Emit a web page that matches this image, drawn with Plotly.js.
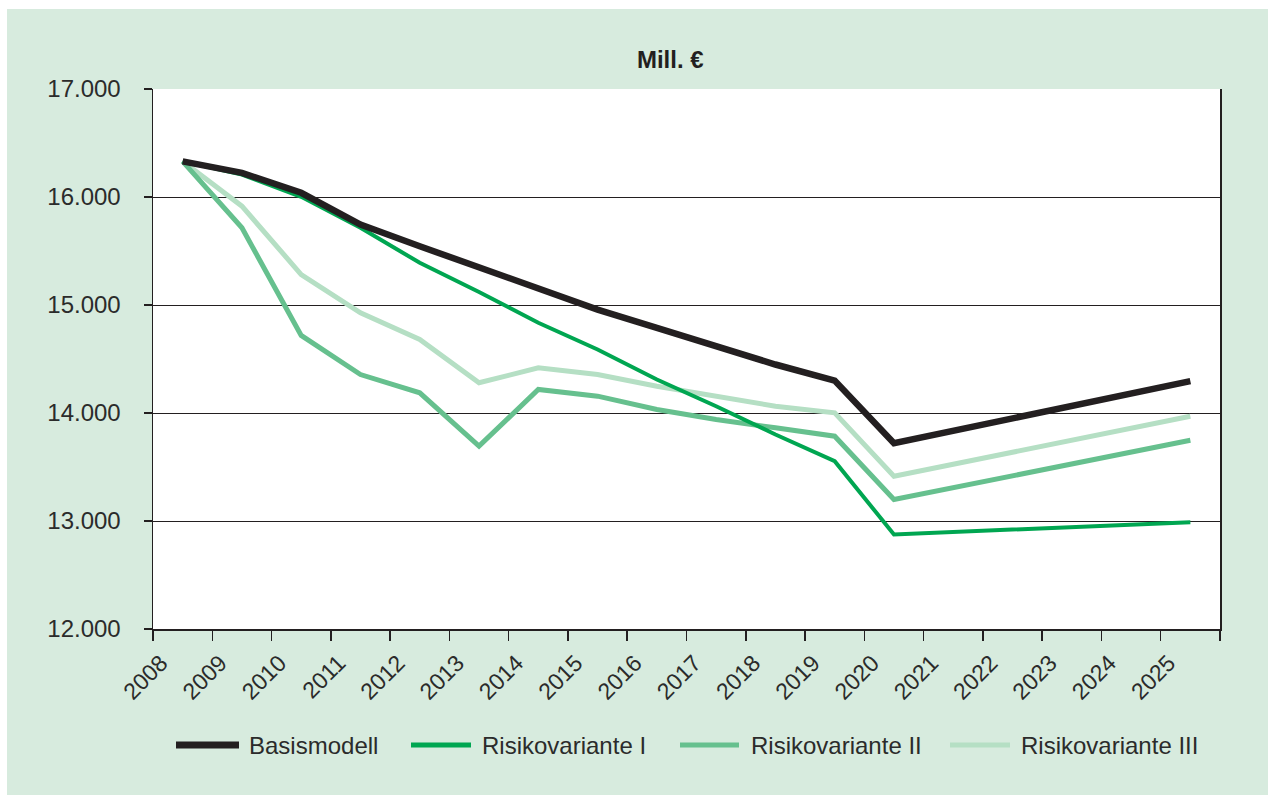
<!DOCTYPE html>
<html>
<head>
<meta charset="utf-8">
<script src="https://cdn.plot.ly/plotly-3.0.1.min.js"></script>
<style>
  html, body { margin: 0; padding: 0; background: #ffffff; }
  #chart { position: absolute; left: 7px; top: 9px; width: 1261px; height: 786px; }
</style>
</head>
<body>
<div id="chart"></div>
<script>
// ---- data ----
const years = [2008, 2009, 2010, 2011, 2012, 2013, 2014, 2015, 2016, 2017, 2018, 2019, 2020, 2021, 2022, 2023, 2024, 2025];
const seriesNames = ["Basismodell", "Risikovariante I", "Risikovariante II", "Risikovariante III"];
const basismodell = [16330, 16224, 16039, 15745, 15544, 15345, 15144, 14958, 14789, 14619, 14449, 14300, 13720, null, null, null, null, 14295];
const risiko1 = [16330, 16208, 16002, 15715, 15391, 15120, 14835, 14588, 14310, 14063, 13801, 13554, 12875, null, null, null, null, 12989];
const risiko2 = [16330, 15715, 14718, 14356, 14187, 13693, 14218, 14156, 14032, 13940, 13863, 13785, 13199, null, null, null, null, 13748];
const risiko3 = [16330, 15915, 15282, 14928, 14681, 14280, 14418, 14356, 14248, 14156, 14063, 14002, 13415, null, null, null, null, 13970];
const yTicks = [12000, 13000, 14000, 15000, 16000, 17000];
const yTickText = ["12.000", "13.000", "14.000", "15.000", "16.000", "17.000"];

// ---- style ----
const colors = ["#231f20", "#00a651", "#66c08e", "#b5dfc4"];
const widths = [6.5, 4, 5, 5];
const legendWidths = [7, 5, 5, 5];
const allValues = [basismodell, risiko1, risiko2, risiko3];
const FONT = "Liberation Sans, Arial, sans-serif";
const TXT = "#2b2b2b";

// draw order: lightest first, black on top
const traces = [3, 2, 1, 0].map(i => ({
  type: "scatter",
  mode: "lines",
  name: seriesNames[i],
  x: years,
  y: allValues[i],
  connectgaps: true,
  line: { color: colors[i], width: widths[i] },
  showlegend: false,
  hoverinfo: "x+y+name"
}));

// tick boundaries between categories
const tickVals = years.map(y => y - 0.5).concat([years[years.length - 1] + 0.5]);
const tickText = years.map(String).concat([""]);

// plot area geometry in px (relative to page) for manual legend
const plotLeft = 153, plotRight = 1220, plotTop = 89, plotBottom = 629;
const px2x = p => (p - plotLeft) / (plotRight - plotLeft);
const py2y = p => (plotBottom - p) / (plotBottom - plotTop);
const legendY = 745;
const legendItems = [
  { x0: 176, x1: 239, tx: 247 },
  { x0: 411, x1: 471, tx: 480 },
  { x0: 680, x1: 739, tx: 749 },
  { x0: 950, x1: 1010, tx: 1019 }
];
const shapes = legendItems.map((it, i) => ({
  type: "line", xref: "paper", yref: "paper",
  x0: px2x(it.x0), x1: px2x(it.x1), y0: py2y(legendY), y1: py2y(legendY),
  line: { color: colors[i], width: legendWidths[i] }
}));
const annotations = legendItems.map((it, i) => ({
  xref: "paper", yref: "paper",
  x: px2x(it.tx), y: py2y(legendY),
  xanchor: "left", yanchor: "middle",
  text: seriesNames[i], showarrow: false,
  font: { family: FONT, size: 24, color: TXT }
}));

const layout = {
  width: 1261, height: 786,
  paper_bgcolor: "#d7ebde",
  plot_bgcolor: "#ffffff",
  margin: { l: 146, r: 48, t: 80, b: 166 },
  title: {
    text: "<b>Mill. €</b>",
    x: 0.526, xref: "container", xanchor: "center",
    y: 0.935, yref: "container", yanchor: "middle",
    font: { family: FONT, size: 24, color: "#231f20" }
  },
  xaxis: {
    type: "linear",
    range: [years[0] - 0.5, years[years.length - 1] + 0.5],
    tickmode: "array", tickvals: tickVals, ticktext: tickText,
    tickangle: -45,
    ticks: "outside", ticklen: 10, tickwidth: 1.5, tickcolor: "#231f20",
    ticklabelshift: 8,
    showgrid: false, zeroline: false,
    showline: true, linecolor: "#231f20", linewidth: 1.5,
    mirror: false,
    tickfont: { family: FONT, size: 23, color: TXT }
  },
  yaxis: {
    range: [12000, 17000],
    tickmode: "array", tickvals: yTicks, ticktext: yTickText,
    ticks: "outside", ticklen: 8, tickwidth: 1.5, tickcolor: "#231f20",
    showgrid: true, gridcolor: "#231f20", gridwidth: 1,
    zeroline: false,
    showline: true, linecolor: "#231f20", linewidth: 1.5,
    mirror: true,
    ticklabelstandoff: 18,
    tickfont: { family: FONT, size: 24, color: TXT }
  },
  shapes: shapes,
  annotations: annotations,
  showlegend: false
};

Plotly.newPlot("chart", traces, layout, { displayModeBar: false, staticPlot: true });
</script>
</body>
</html>
